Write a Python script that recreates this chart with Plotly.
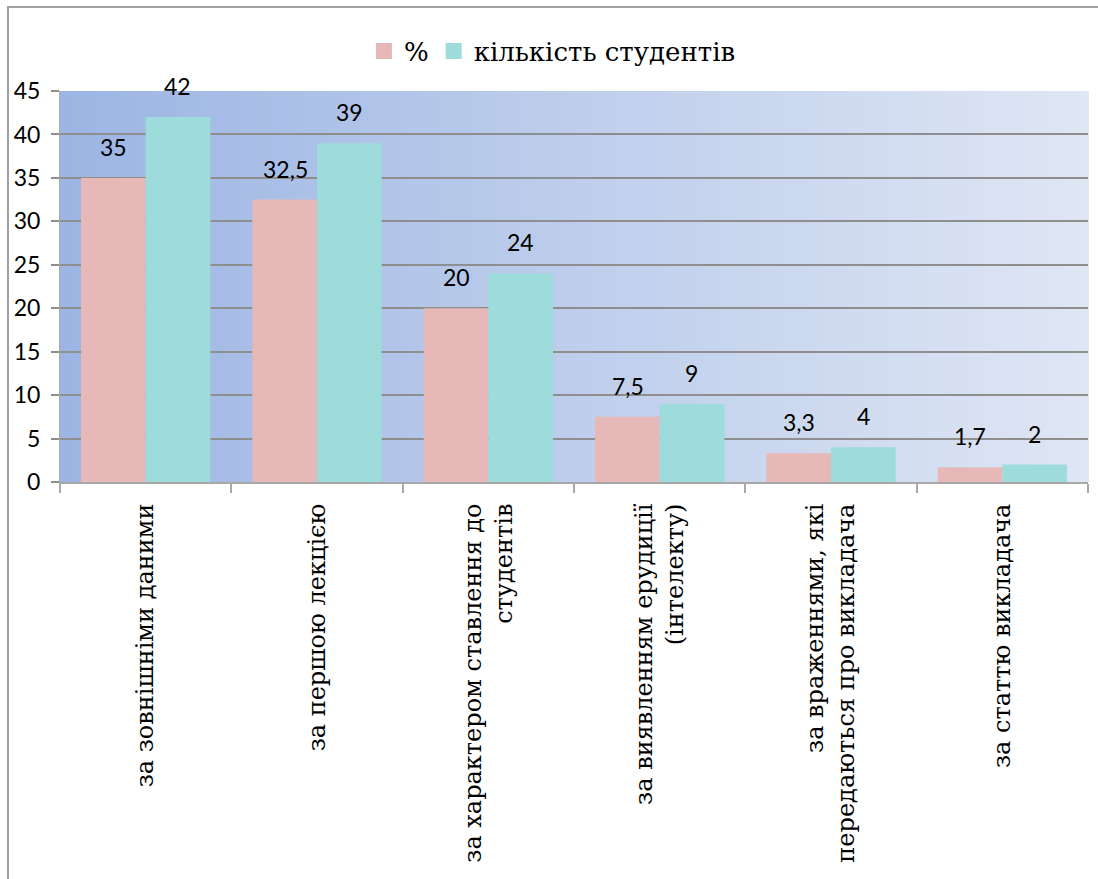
import plotly.graph_objects as go

categories = [
    "за зовнішніми даними",
    "за першою лекцією",
    "за характером ставлення до<br>студентів",
    "за виявленням ерудиції<br>(інтелекту)",
    "за враженнями, які<br>передаються про викладача",
    "за статтю викладача",
]
percent = [35, 32.5, 20, 7.5, 3.3, 1.7]
students = [42, 39, 24, 9, 4, 2]
percent_labels = ["35", "32,5", "20", "7,5", "3,3", "1,7"]
student_labels = ["42", "39", "24", "9", "4", "2"]
series_names = ["%", "кількість студентів"]
y_ticks = [0, 5, 10, 15, 20, 25, 30, 35, 40, 45]

PINK = "#E6B9B8"
TEAL = "#9EDBDB"
SERIF = "DejaVu Serif"
SANS = "Lato"

fig = go.Figure()
fig.add_trace(go.Bar(x=categories, y=percent, name=series_names[0],
                     marker=dict(color=PINK, line=dict(width=0)),
                     showlegend=False))
fig.add_trace(go.Bar(x=categories, y=students, name=series_names[1],
                     marker=dict(color=TEAL, line=dict(width=0)),
                     showlegend=False))

for nm, col in zip(series_names, [PINK, TEAL]):
    fig.add_trace(go.Scatter(x=[None], y=[None], mode="markers", name=nm,
                             marker=dict(symbol="square", size=20, color=col)))

annotations = []
for i, c in enumerate(categories):
    annotations.append(dict(x=c, y=percent[i], xref="x", yref="y", text=percent_labels[i],
                            showarrow=False, xshift=-32, yshift=31, yanchor="middle",
                            font=dict(family=SANS, size=23, color="#000")))
    annotations.append(dict(x=c, y=students[i], xref="x", yref="y", text=student_labels[i],
                            showarrow=False, xshift=32, yshift=31, yanchor="middle",
                            font=dict(family=SANS, size=23, color="#000")))

shapes = []
N = 120
c0 = (156, 181, 227)
c1 = (223, 230, 244)
for k in range(N):
    t = k / (N - 1)
    col = tuple(round(c0[j] + (c1[j] - c0[j]) * t) for j in range(3))
    shapes.append(dict(type="rect", xref="paper", yref="paper",
                       x0=k / N, x1=(k + 1) / N + 0.001, y0=0, y1=1,
                       fillcolor="rgb(%d,%d,%d)" % col, line=dict(width=0), layer="below"))
shapes.append(dict(type="rect", xref="paper", yref="paper",
                   x0=-0.0506, x1=1.2, y0=-2, y1=1.2148,
                   line=dict(color="#A0A0A0", width=2), fillcolor="rgba(0,0,0,0)", layer="below"))

fig.update_layout(
    width=1098, height=879,
    margin=dict(l=60, r=10, t=91, b=397),
    paper_bgcolor="white", plot_bgcolor="white",
    barmode="group", bargap=0.245, bargroupgap=0,
    shapes=shapes, annotations=annotations,
    legend=dict(orientation="h", x=0.479, xanchor="center", y=1.102, yanchor="middle",
                font=dict(family=SERIF, size=26, color="#000"),
                bgcolor="rgba(0,0,0,0)", itemwidth=30, tracegroupgap=0),
    showlegend=True,
)
fig.update_yaxes(range=[0, 45], tickvals=y_ticks, showgrid=True, gridcolor="#8E8E8E", gridwidth=2,
                 ticks="outside", ticklen=8, tickcolor="#8E8E8E", tickwidth=2, automargin=False,
                 showline=True, linecolor="#A8A8A8", linewidth=1, ticklabelstandoff=6,
                 tickfont=dict(family=SANS, size=23, color="#000"), zeroline=False)
fig.update_xaxes(tickangle=-90, tickson="boundaries", ticks="outside", ticklen=9, automargin=False,
                 tickcolor="#A8A8A8", tickwidth=2, showline=True, linecolor="#A8A8A8", linewidth=2,
                 tickfont=dict(family=SERIF, size=24, color="#000"), ticklabelstandoff=10)

fig.write_html("out.html")
